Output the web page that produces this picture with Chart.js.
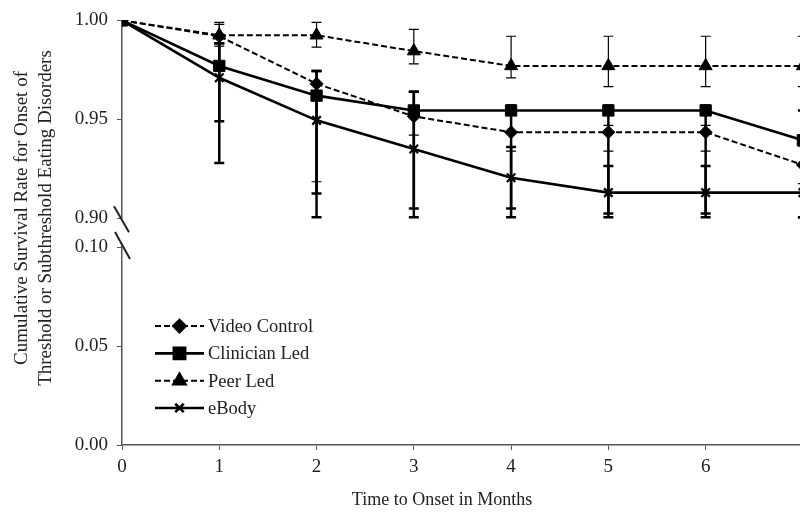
<!DOCTYPE html>
<html>
<head>
  <meta charset="utf-8">
  <title>Cumulative Survival Rate</title>
  <script src="https://cdn.jsdelivr.net/npm/chart.js"></script>
  <style>
    body { margin: 0; padding: 0; background: #fff; }
    canvas { display: block; }
  </style>
</head>
<body>
  <canvas id="myChart" width="800" height="512"></canvas>

  <script>
    // x axis: months
    const months = [0, 1, 2, 3, 4, 5, 6, 7];

    // survival rate per group
    const videoControl = [1.000, 0.992, 0.968, 0.9515, 0.9435, 0.9435, 0.9435, 0.927];
    const clinicianLed = [1.000, 0.977, 0.962, 0.9545, 0.9545, 0.9545, 0.9545, 0.9395];
    const peerLed      = [1.000, 0.9925, 0.9925, 0.9845, 0.977, 0.977, 0.977, 0.977];
    const eBody        = [1.000, 0.971, 0.9495, 0.935, 0.9205, 0.913, 0.913, 0.913];

    // error bar limits (null = no bar)
    const videoLow      = [null, 0.987, 0.9185, 0.942, 0.934, 0.934, 0.934, 0.9175];
    const videoHigh     = [null, 0.998, 0.9745, 0.964, 0.953, 0.947, 0.947, 0.9365];
    const clinicianLow  = [null, 0.949, 0.9125, 0.905, 0.9005, 0.9005, 0.9005, 0.9005];
    const clinicianHigh = [null, 0.9885, 0.9745, 0.964, 0.957, 0.957, 0.957, 0.9545];
    const peerLow       = [null, 0.9885, 0.9865, 0.978, 0.971, 0.9665, 0.9665, 0.9665];
    const peerHigh      = [null, 0.999, 0.999, 0.9955, 0.992, 0.992, 0.992, 0.992];
    const eBodyLow      = [null, 0.928, 0.9005, 0.9005, 0.905, 0.9025, 0.9025, 0.9005];
    const eBodyHigh     = [null, 0.9885, 0.9745, 0.964, 0.936, 0.9265, 0.9265, 0.927];

    const yTitleLines = ['Cumulative Survival Rate for Onset of', 'Threshold or Subthreshold Eating Disorders'];
    const xTitle = 'Time to Onset in Months';

    const SERIF = "'Liberation Serif', 'Times New Roman', serif";
    const INK = '#222';

    function pts(vals) {
      return months.map((m, i) => ({ x: m, y: vals[i] }));
    }

    function series(label, vals, lo, hi, style, radius, dashed, errWidth) {
      return {
        label: label,
        data: pts(vals),
        yAxisID: 'yTop',
        borderColor: '#000',
        backgroundColor: '#000',
        borderWidth: dashed ? 2 : 2.6,
        borderDash: dashed ? [6, 3] : [],
        pointStyle: style,
        pointRadius: radius,
        pointBorderWidth: style === 'crossRot' ? 2.2 : 1,
        pointBackgroundColor: '#000',
        pointBorderColor: '#000',
        tension: 0,
        errLow: lo,
        errHigh: hi,
        errWidth: errWidth
      };
    }

    // vertical error bars with caps, drawn under the markers
    const errorBars = {
      id: 'errorBars',
      beforeDatasetsDraw(chart) {
        const { ctx, chartArea, scales } = chart;
        ctx.save();
        ctx.beginPath();
        ctx.rect(chartArea.left, chartArea.top - 3, chartArea.width, chartArea.height + 3);
        ctx.clip();
        ctx.strokeStyle = '#000';
        ctx.setLineDash([]);
        chart.data.datasets.forEach(ds => {
          ctx.lineWidth = ds.errWidth;
          ds.data.forEach((pt, i) => {
            const lo = ds.errLow[i], hi = ds.errHigh[i];
            if (lo == null) return;
            const x = scales.x.getPixelForValue(pt.x);
            const y1 = scales.yTop.getPixelForValue(hi);
            const y2 = scales.yTop.getPixelForValue(lo);
            ctx.beginPath();
            ctx.moveTo(x, y1); ctx.lineTo(x, y2);
            ctx.moveTo(x - 5, y1); ctx.lineTo(x + 5, y1);
            ctx.moveTo(x - 5, y2); ctx.lineTo(x + 5, y2);
            ctx.stroke();
          });
        });
        ctx.restore();
      }
    };

    // axis break marks, titles and the legend box
    const decorations = {
      id: 'decorations',
      afterDraw(chart) {
        const { ctx, chartArea, scales } = chart;
        const left = chartArea.left;
        ctx.save();

        // break marks
        ctx.strokeStyle = INK;
        ctx.lineWidth = 2;
        const yb1 = scales.yTop.bottom, yb2 = scales.yBot.top;
        ctx.beginPath();
        ctx.moveTo(left - 8, yb1 - 12); ctx.lineTo(left + 7, yb1 + 14);
        ctx.moveTo(left - 7, yb2 - 15); ctx.lineTo(left + 8, yb2 + 12);
        ctx.stroke();

        // y title, two rotated lines
        ctx.fillStyle = INK;
        ctx.font = '19px ' + SERIF;
        ctx.textAlign = 'center';
        ctx.textBaseline = 'middle';
        ctx.translate(22, 218);
        ctx.rotate(-Math.PI / 2);
        ctx.fillText(yTitleLines[0], 0, 0);
        ctx.fillText(yTitleLines[1], 0, 24);
        ctx.setTransform(1, 0, 0, 1, 0, 0);

        // x title
        ctx.font = '18px ' + SERIF;
        ctx.fillText(xTitle, left + 320, 500);

        // legend
        ctx.font = '18.5px ' + SERIF;
        ctx.textAlign = 'left';
        const x0 = left + 33, x1 = left + 82;
        chart.data.datasets.forEach((ds, i) => {
          const y = scales.yBot.top + 79 + i * 27.3;
          ctx.strokeStyle = '#000';
          ctx.lineWidth = ds.borderWidth;
          ctx.setLineDash(ds.borderDash);
          ctx.beginPath();
          ctx.moveTo(x0, y); ctx.lineTo(x1, y);
          ctx.stroke();
          ctx.setLineDash([]);
          ctx.fillStyle = '#000';
          Chart.helpers.drawPoint(ctx, {
            pointStyle: ds.pointStyle,
            radius: ds.pointRadius,
            rotation: 0,
            borderWidth: ds.pointBorderWidth
          }, (x0 + x1) / 2, y);
          ctx.fillStyle = INK;
          ctx.fillText(ds.label, x1 + 4, y + 1);
        });
        ctx.restore();
      }
    };

    const tickFont = { family: SERIF, size: 19 };

    const ctx = document.getElementById('myChart').getContext('2d');
    const chart = new Chart(ctx, {
      type: 'line',
      data: {
        datasets: [
          series('Video Control', videoControl, videoLow, videoHigh, 'rectRot', 6.5, true, 1.2),
          series('Clinician Led', clinicianLed, clinicianLow, clinicianHigh, 'rect', 8, false, 2.5),
          series('Peer Led', peerLed, peerLow, peerHigh, 'triangle', 7.5, true, 1.2),
          series('eBody', eBody, eBodyLow, eBodyHigh, 'crossRot', 6, false, 2.5)
        ]
      },
      options: {
        responsive: false,
        animation: false,
        layout: { autoPadding: false, padding: { top: 16, left: 0, right: 0, bottom: 0 } },
        plugins: {
          legend: { display: false },
          tooltip: { enabled: false }
        },
        scales: {
          x: {
            type: 'linear',
            min: 0,
            max: 6.97,
            grid: { drawOnChartArea: false, tickLength: 5, color: '#555' },
            border: { color: '#555', width: 1.5 },
            ticks: { stepSize: 1, includeBounds: false, color: INK, font: tickFont, padding: 6 },
            afterFit(scale) {
              scale.height = 67;
              scale.paddingLeft = 0;
              scale.paddingRight = 0;
            }
          },
          // stacked from the bottom up: lower panel, gap, upper panel
          yBot: {
            type: 'linear',
            position: 'left',
            stack: 'y',
            stackWeight: 200,
            min: 0,
            max: 0.1,
            grid: { drawOnChartArea: false, tickLength: 5, color: '#555' },
            border: { color: '#555', width: 1.5 },
            ticks: { stepSize: 0.05, color: INK, font: tickFont, padding: 9,
                     callback: v => v.toFixed(2) },
            afterFit(scale) { scale.width = 122; }
          },
          yGap: {
            type: 'linear',
            position: 'left',
            stack: 'y',
            stackWeight: 29,
            grid: { display: false },
            border: { display: false },
            ticks: { display: false },
            afterFit(scale) { scale.width = 0; }
          },
          yTop: {
            type: 'linear',
            position: 'left',
            stack: 'y',
            stackWeight: 200,
            min: 0.9,
            max: 1.0,
            grid: { drawOnChartArea: false, tickLength: 5, color: '#555' },
            border: { color: '#555', width: 1.5 },
            ticks: { stepSize: 0.05, color: INK, font: tickFont, padding: 9,
                     callback: v => v.toFixed(2) },
            afterFit(scale) { scale.width = 122; }
          }
        }
      },
      plugins: [errorBars, decorations]
    });
  </script>
</body>
</html>
